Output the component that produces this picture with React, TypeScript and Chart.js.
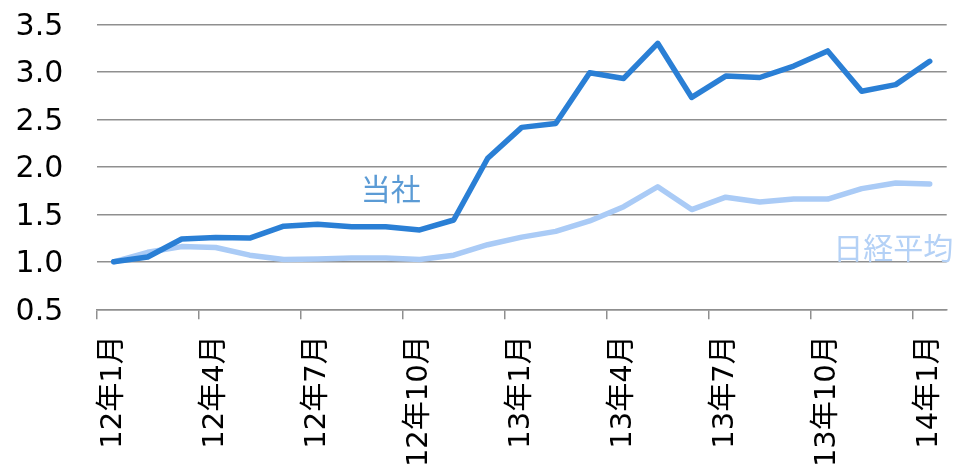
import React, { useEffect, useRef } from "react";
import { Chart, registerables } from "chart.js";

Chart.register(...registerables);

const categories = [
  "12年1月", "12年2月", "12年3月", "12年4月", "12年5月", "12年6月",
  "12年7月", "12年8月", "12年9月", "12年10月", "12年11月", "12年12月",
  "13年1月", "13年2月", "13年3月", "13年4月", "13年5月", "13年6月",
  "13年7月", "13年8月", "13年9月", "13年10月", "13年11月", "13年12月",
  "14年1月",
];

const companyValues = [
  1.0, 1.05, 1.24, 1.255, 1.25, 1.375, 1.395, 1.37, 1.37, 1.335, 1.44, 2.09,
  2.415, 2.455, 2.99, 2.93, 3.3, 2.73, 2.955, 2.94, 3.06, 3.22, 2.795, 2.865,
  3.11,
];

const nikkeiValues = [
  1.0, 1.1, 1.16, 1.15, 1.07, 1.025, 1.03, 1.04, 1.04, 1.025, 1.07, 1.18,
  1.26, 1.32, 1.43, 1.58, 1.79, 1.55, 1.68, 1.63, 1.66, 1.66, 1.77, 1.83,
  1.82,
];

const seriesNames = ["当社", "日経平均"];
const yTicks = [0.5, 1.0, 1.5, 2.0, 2.5, 3.0, 3.5];

const FONT = "'DejaVu Sans', 'Noto Sans CJK JP', sans-serif";
const GRID = "#8f8f8f";
const DARK = "#2a7fd5";
const LIGHT = "#aacbf6";

const labelPlugin = {
  id: "seriesLabels",
  afterDatasetsDraw(chart: any) {
    const { ctx, scales } = chart;
    const xs = scales.x;
    const ys = scales.y;
    const items = [
      { text: seriesNames[0], x: 8.15, y: 1.73, color: "#5b9bd5" },
      { text: seriesNames[1], x: 22.93, y: 1.11, color: "#b4d1f6" },
    ];
    ctx.save();
    ctx.font = `30px ${FONT}`;
    ctx.textAlign = "center";
    ctx.textBaseline = "middle";
    for (const it of items) {
      ctx.fillStyle = it.color;
      ctx.fillText(it.text, xs.getPixelForValue(it.x), ys.getPixelForValue(it.y));
    }
    ctx.restore();
  },
};

export default function App() {
  const ref = useRef<HTMLCanvasElement | null>(null);

  useEffect(() => {
    if (!ref.current) return;
    const chart = new Chart(ref.current, {
      type: "line",
      data: {
        labels: categories,
        datasets: [
          {
            label: seriesNames[0],
            data: companyValues,
            borderColor: DARK,
            backgroundColor: DARK,
            borderWidth: 5.5,
            pointRadius: 0,
            tension: 0,
            borderCapStyle: "round",
            borderJoinStyle: "round",
          },
          {
            label: seriesNames[1],
            data: nikkeiValues,
            borderColor: LIGHT,
            backgroundColor: LIGHT,
            borderWidth: 5.5,
            pointRadius: 0,
            tension: 0,
            borderCapStyle: "round",
            borderJoinStyle: "round",
          },
        ],
      },
      options: {
        animation: false,
        responsive: true,
        maintainAspectRatio: false,
        layout: { padding: { left: 0, right: 6.3, top: 24.3, bottom: 0 } },
        plugins: {
          legend: { display: false },
          tooltip: { enabled: false },
        },
        scales: {
          x: {
            type: "category",
            offset: true,
            grid: {
              offset: true,
              drawOnChartArea: false,
              drawTicks: true,
              tickLength: 10,
              lineWidth: 1.5,
              color: (c: any) => (c.index % 3 === 0 ? GRID : "rgba(0,0,0,0)"),
            },
            border: { display: true, color: GRID, width: 1.5 },
            ticks: {
              autoSkip: false,
              maxRotation: 90,
              minRotation: 90,
              padding: 16,
              color: "#000",
              font: { family: FONT, size: 29 },
              callback: (_v: any, i: number) => (i % 3 === 0 ? categories[i] : ""),
            },
            afterFit: (s: any) => {
              s.height = 162.7;
              s.paddingLeft = 0;
              s.paddingRight = 0;
            },
          },
          y: {
            min: yTicks[0],
            max: yTicks[yTicks.length - 1],
            grid: {
              drawTicks: false,
              color: GRID,
              lineWidth: 1.5,
            },
            border: { display: false },
            ticks: {
              stepSize: 0.5,
              padding: 33.4,
              labelOffset: 2.5,
              color: "#000",
              font: { family: FONT, size: 30 },
              callback: (v: any) => Number(v).toFixed(1),
            },
            afterFit: (s: any) => {
              s.width = 96.7;
              s.paddingTop = 0;
              s.paddingBottom = 0;
            },
          },
        },
      },
      plugins: [labelPlugin],
    });
    return () => chart.destroy();
  }, []);

  return (
    <div style={{ position: "fixed", left: 0, top: 0, width: 953, height: 472, background: "#fff" }}>
      <canvas ref={ref} />
    </div>
  );
}
